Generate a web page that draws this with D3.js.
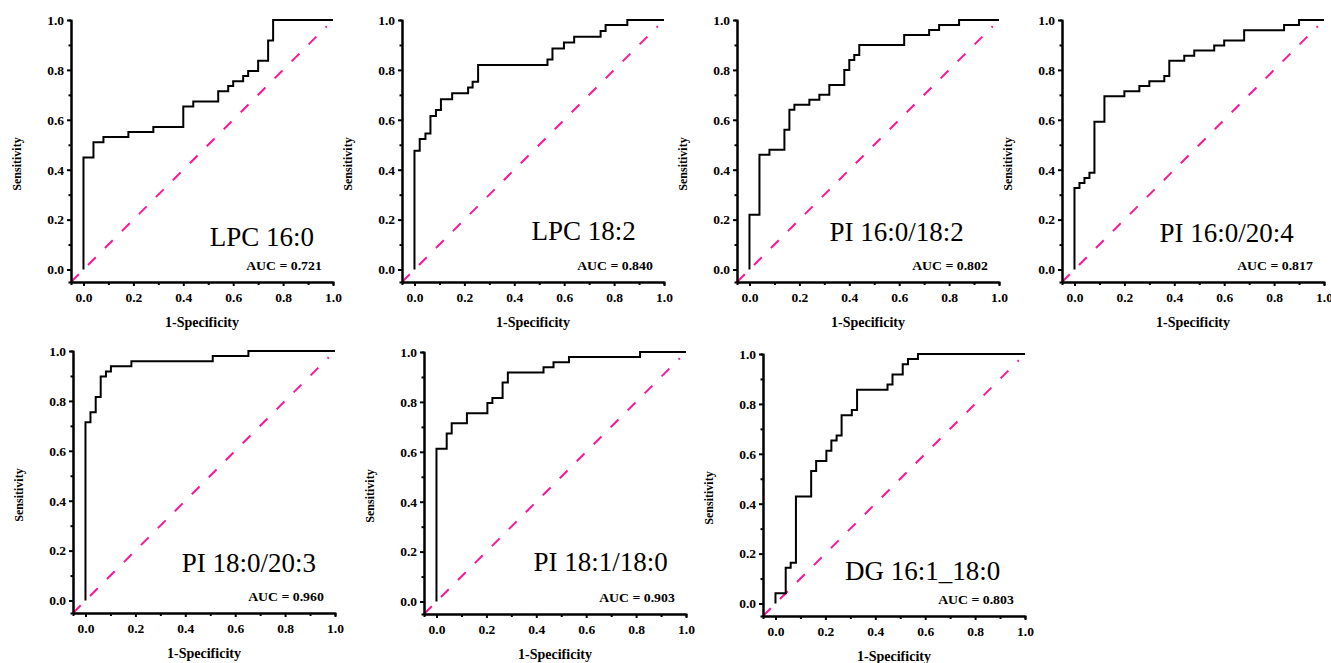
<!DOCTYPE html>
<head>
<meta charset="utf-8">
<style>

body {
  margin: 0;
  background-color: #fff;
}

svg text {
  font-family: "Liberation Serif", "Times New Roman", serif;
}

.axis path, .axis line {
  stroke: #000;
  stroke-width: 2px;
}

.axis text {
  font-size: 13.5px;
  font-weight: bold;
  fill: #000;
}

.roc {
  fill: none;
  stroke: #000;
  stroke-width: 2px;
}

.chance {
  fill: none;
  stroke: #ff1493;
  stroke-width: 2px;
  stroke-dasharray: 11,13;
}

</style>
</head>
<body>
<svg width="1331" height="663"></svg>
<script src="https://d3js.org/d3.v7.min.js"></script>
<script>
// ROC curves for seven lipid markers.
var markers = ["LPC 16:0", "LPC 18:2", "PI 16:0/18:2", "PI 16:0/20:4", "PI 18:0/20:3", "PI 18:1/18:0", "DG 16:1_18:0"];
var aucValues = ["0.721", "0.840", "0.802", "0.817", "0.960", "0.903", "0.803"];

// 1-Specificity (fpr) and Sensitivity (tpr) at each step of the curve
var fprLPC160 = [0, 0, 0.04, 0.08, 0.18, 0.28, 0.40, 0.44, 0.54, 0.58, 0.60, 0.64, 0.66, 0.70, 0.74, 0.76, 1];
var tprLPC160 = [0, 0.449, 0.510, 0.531, 0.551, 0.571, 0.653, 0.673, 0.714, 0.735, 0.755, 0.776, 0.796, 0.837, 0.918, 1, 1];

var fprLPC182 = [0, 0, 0.021, 0.044, 0.064, 0.086, 0.106, 0.151, 0.215, 0.233, 0.255, 0.533, 0.553, 0.599, 0.640, 0.746, 0.766, 0.853, 1];
var tprLPC182 = [0, 0.476, 0.523, 0.545, 0.615, 0.639, 0.682, 0.706, 0.729, 0.753, 0.820, 0.842, 0.886, 0.910, 0.933, 0.956, 0.980, 1, 1];

var fprPI160182 = [0, 0, 0.04, 0.08, 0.14, 0.16, 0.18, 0.24, 0.28, 0.32, 0.38, 0.40, 0.42, 0.44, 0.62, 0.72, 0.76, 0.84, 1];
var tprPI160182 = [0, 0.22, 0.46, 0.48, 0.56, 0.64, 0.66, 0.68, 0.70, 0.74, 0.80, 0.84, 0.86, 0.90, 0.94, 0.96, 0.98, 1, 1];

var fprPI160204 = [0, 0, 0.02, 0.04, 0.06, 0.08, 0.12, 0.20, 0.26, 0.30, 0.36, 0.38, 0.44, 0.48, 0.56, 0.60, 0.68, 0.84, 0.90, 1];
var tprPI160204 = [0, 0.327, 0.347, 0.367, 0.388, 0.592, 0.694, 0.714, 0.735, 0.755, 0.776, 0.837, 0.857, 0.878, 0.898, 0.918, 0.959, 0.980, 1, 1];

var fprPI180203 = [0, 0, 0.020, 0.041, 0.061, 0.082, 0.102, 0.184, 0.510, 0.653, 1];
var tprPI180203 = [0, 0.714, 0.755, 0.816, 0.898, 0.918, 0.939, 0.959, 0.980, 1, 1];

var fprPI181180 = [0, 0, 0.041, 0.061, 0.122, 0.204, 0.224, 0.265, 0.286, 0.429, 0.469, 0.531, 0.816, 1];
var tprPI181180 = [0, 0.612, 0.673, 0.714, 0.755, 0.796, 0.816, 0.878, 0.918, 0.939, 0.959, 0.980, 1, 1];

var fprDG161180 = [0, 0, 0.041, 0.061, 0.082, 0.143, 0.163, 0.204, 0.224, 0.245, 0.265, 0.306, 0.327, 0.449, 0.469, 0.510, 0.531, 0.571, 1];
var tprDG161180 = [0, 0.041, 0.143, 0.163, 0.429, 0.531, 0.571, 0.612, 0.653, 0.673, 0.755, 0.776, 0.857, 0.878, 0.918, 0.959, 0.980, 1, 1];

var fprSeries = [fprLPC160, fprLPC182, fprPI160182, fprPI160204, fprPI180203, fprPI181180, fprDG161180];
var tprSeries = [tprLPC160, tprLPC182, tprPI160182, tprPI160204, tprPI180203, tprPI181180, tprDG161180];

var majorTicks = [0, 0.2, 0.4, 0.6, 0.8, 1.0];
var minorTicks = [0.1, 0.3, 0.5, 0.7, 0.9];

// where each panel sits on the page, and where its name goes (data units)
var panelLeft = [71, 402, 737, 1062, 73, 424, 763];
var panelTop = [20, 20, 20, 20, 351, 352, 354];
var labelX = [0.715, 0.678, 0.59, 0.61, 0.655, 0.658, 0.59];
var labelY = [0.094, 0.12, 0.115, 0.11, 0.116, 0.121, 0.095];

var plotW = 262, plotH = 262;

var svg = d3.select("svg");

markers.forEach(function(name, i) {
  var x = d3.scaleLinear().domain([-0.05, 1]).range([0, plotW]);
  var y = d3.scaleLinear().domain([-0.05, 1]).range([plotH, 0]);

  var g = svg.append("g")
      .attr("transform", "translate(" + panelLeft[i] + "," + panelTop[i] + ")");

  // chance line
  g.append("line")
      .attr("class", "chance")
      .attr("x1", x(-0.05)).attr("y1", y(-0.05))
      .attr("x2", x(0.975)).attr("y2", y(0.975));

  // ROC step curve
  var pts = fprSeries[i].map(function(f, j) { return [f, tprSeries[i][j]]; });
  var line = d3.line()
      .x(function(d) { return x(d[0]); })
      .y(function(d) { return y(d[1]); })
      .curve(d3.curveStepAfter);

  g.append("path")
      .datum(pts)
      .attr("class", "roc")
      .attr("d", line);

  // minor ticks first, then the major axis on top
  g.append("g")
      .attr("class", "axis")
      .attr("transform", "translate(0," + plotH + ")")
      .call(d3.axisBottom(x).tickValues(minorTicks).tickSize(3).tickFormat(""));
  g.append("g")
      .attr("class", "axis")
      .call(d3.axisLeft(y).tickValues(minorTicks).tickSize(2.5).tickFormat(""));

  g.append("g")
      .attr("class", "axis")
      .attr("transform", "translate(0," + plotH + ")")
      .call(d3.axisBottom(x).tickValues(majorTicks).tickSizeInner(4).tickSizeOuter(0)
        .tickPadding(6).tickFormat(d3.format(".1f")));
  g.append("g")
      .attr("class", "axis")
      .call(d3.axisLeft(y).tickValues(majorTicks).tickSizeInner(4).tickSizeOuter(0)
        .tickPadding(3).tickFormat(d3.format(".1f")));

  g.selectAll(".axis text").attr("font-family", "Liberation Serif");

  // axis titles
  g.append("text")
      .attr("x", plotW / 2)
      .attr("y", plotH + 45)
      .attr("text-anchor", "middle")
      .style("font-size", "14px")
      .style("font-weight", "bold")
      .text("1-Specificity");

  g.append("text")
      .attr("transform", "translate(-50," + (plotH / 2 + 13) + ") rotate(-90)")
      .attr("text-anchor", "middle")
      .style("font-size", "12px")
      .style("font-weight", "bold")
      .text("Sensitivity");

  // marker name
  g.append("text")
      .attr("x", x(labelX[i]))
      .attr("y", y(labelY[i]))
      .attr("text-anchor", "middle")
      .style("font-size", "27px")
      .text(name);

  // AUC
  g.append("text")
      .attr("transform", "translate(" + x(0.955) + "," + y(0) + ") scale(1.2,1)")
      .attr("text-anchor", "end")
      .style("font-size", "11.5px")
      .style("font-weight", "bold")
      .text("AUC = " + aucValues[i]);
});

</script>
</body>
